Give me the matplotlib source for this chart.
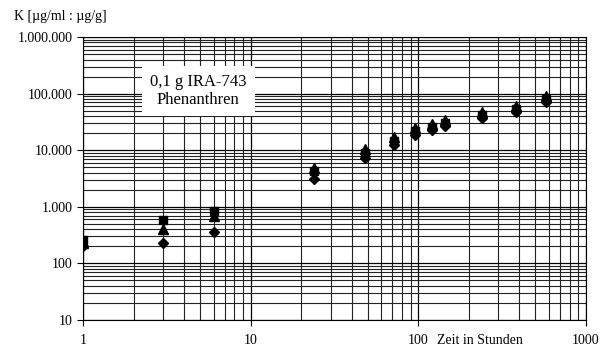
import matplotlib.pyplot as plt
from matplotlib.ticker import FixedLocator, LogLocator, NullFormatter

plt.rcParams['font.family'] = ['Liberation Serif', 'DejaVu Serif']

# Zeit in Stunden
zeit = [1, 3, 6, 24, 48, 72, 96, 120, 144, 240, 384, 576]

# K-Werte der drei Versuchsreihen
k_dreieck = [230, 405, 690, 4900, 10500, 17000, 24500, 29000, 34000, 47000, 60000, 91000]
k_quadrat = [255, 585, 850, 4300, 8900, 14500, 21800, 25600, 30000, 42000, 53000, 80000]
k_raute = [205, 229, 359, 3100, 7250, 12300, 18500, 22700, 26900, 37000, 47000, 71000]

y_ticks = [10, 100, 1000, 10000, 100000, 1000000]
y_labels = ['10', '100', '1.000', '10.000', '100.000', '1.000.000']
x_ticks = [1, 10, 100, 1000]
x_labels = ['1', '10', '100', '1000']

fig = plt.figure(figsize=(6.11, 3.49), dpi=100)
ax = fig.add_axes([0.136, 0.083, 0.823, 0.811])

ax.set_xscale('log')
ax.set_yscale('log')
ax.set_xlim(1, 1000)
ax.set_ylim(10, 1000000)

ax.plot(zeit, k_dreieck, '^', color='black', markersize=6.5, zorder=3)
ax.plot(zeit, k_quadrat, 's', color='black', markersize=6, zorder=3)
ax.plot(zeit, k_raute, 'D', color='black', markersize=4.8, zorder=3)

ax.yaxis.set_major_locator(FixedLocator(y_ticks))
ax.set_yticklabels(y_labels)
ax.xaxis.set_major_locator(FixedLocator(x_ticks))
ax.set_xticklabels(x_labels)
ax.xaxis.set_minor_locator(LogLocator(base=10, subs=range(2, 10)))
ax.yaxis.set_minor_locator(LogLocator(base=10, subs=range(2, 10)))
ax.xaxis.set_minor_formatter(NullFormatter())
ax.yaxis.set_minor_formatter(NullFormatter())

ax.grid(True, which='major', color='black', linewidth=0.9)
ax.grid(True, which='minor', color='#222222', linewidth=0.8)
ax.set_axisbelow(True)

ax.tick_params(axis='both', which='major', direction='out', length=4,
               width=0.8, labelsize=10, colors='black')
ax.tick_params(axis='both', which='minor', length=0)
ax.tick_params(axis='x', which='major', pad=6)
for s in ax.spines.values():
    s.set_color('black')
    s.set_linewidth(0.8)

fig.text(0.023, 0.935, 'K [µg/ml : µg/g]', fontsize=10, ha='left', va='bottom')
ax.text(0.79, -0.05, 'Zeit in Stunden', transform=ax.transAxes, fontsize=10,
        ha='center', va='top')

ax.text(0.229, 0.809, '0,1 g IRA-743\nPhenanthren', transform=ax.transAxes,
        fontsize=12, ha='center', va='center', linespacing=1.15,
        bbox=dict(facecolor='white', edgecolor='none', pad=6), zorder=4)

fig.savefig('out.png', dpi=100)
